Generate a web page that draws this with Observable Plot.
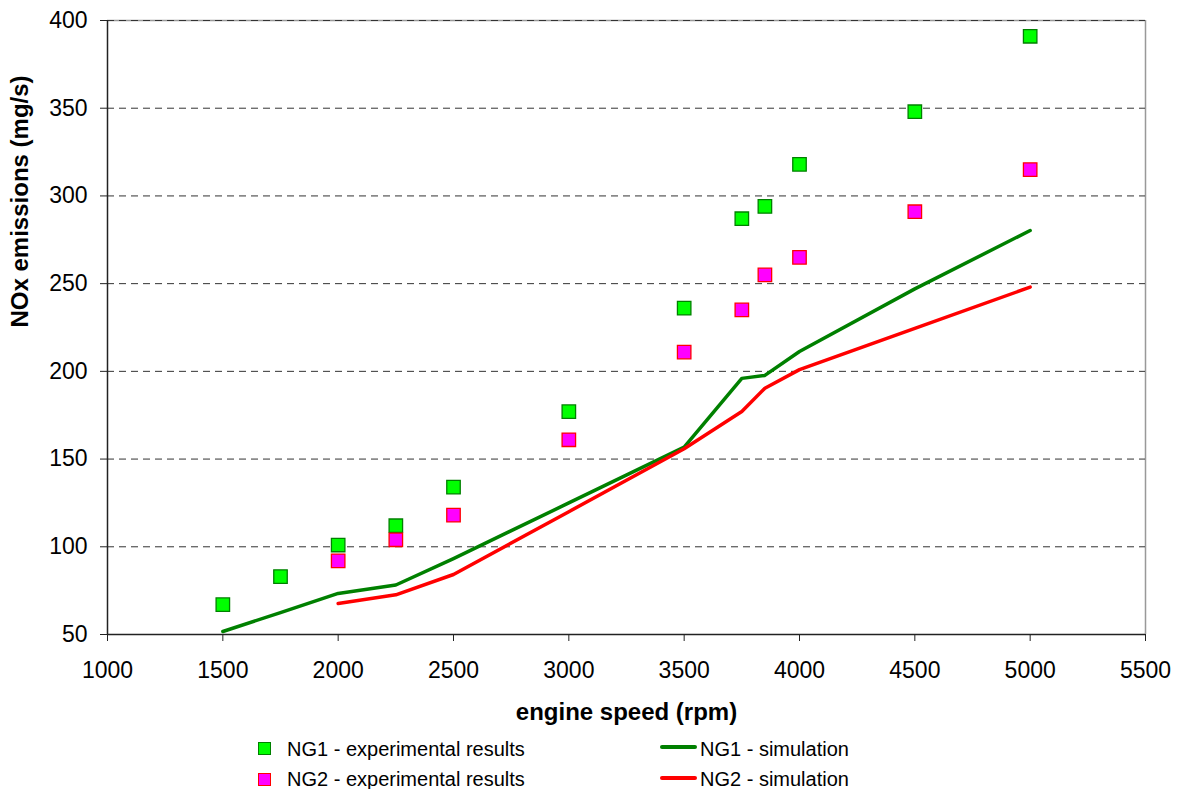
<!DOCTYPE html>
<html>
<head>
<meta charset="utf-8">
<script src="https://cdn.jsdelivr.net/npm/d3@7"></script>
<script src="https://cdn.jsdelivr.net/npm/@observablehq/plot@0.6"></script>
<style>
  html, body { margin: 0; padding: 0; background: #fff; }
  #wrap { position: relative; width: 1180px; height: 789px; font-family: "Liberation Sans", Arial, sans-serif; }
  #wrap svg { display: block; }
  .leg { position: absolute; font-size: 20px; color: #000; white-space: nowrap; line-height: 1; }
  .sw { position: absolute; box-sizing: border-box; width: 13px; height: 13px; border: 1.5px solid; }
  .ln { position: absolute; width: 37px; height: 4px; border-radius: 2px; }
</style>
</head>
<body>
<div id="wrap"></div>
<script>
// Engine speed (rpm) at which each series was measured or simulated
const ng1ExpSpeed = [1500, 1750, 2000, 2250, 2500, 3000, 3500, 3750, 3850, 4000, 4500, 5000];
const ng1ExpNOx   = [67, 83, 101, 112, 134, 177, 236, 287, 294, 318, 348, 391];

const ng2ExpSpeed = [2000, 2250, 2500, 3000, 3500, 3750, 3850, 4000, 4500, 5000];
const ng2ExpNOx   = [92, 104, 118, 161, 211, 235, 255, 265, 291, 315];

const ng1SimSpeed = [1500, 1750, 2000, 2250, 2500, 3000, 3500, 3750, 3850, 4000, 4500, 5000];
const ng1SimNOx   = [51.7, 62.5, 73.4, 78.2, 93.3, 125, 156.8, 196, 197.7, 211.3, 247, 280.3];

const ng2SimSpeed = [2000, 2250, 2500, 3000, 3500, 3750, 3850, 4000, 4500, 5000];
const ng2SimNOx   = [67.7, 72.6, 84.2, 120, 155.9, 177.1, 190.4, 201, 224.5, 248];

// Axis ticks
const xTicks = [1000, 1500, 2000, 2500, 3000, 3500, 4000, 4500, 5000, 5500];
const yTicks = [50, 100, 150, 200, 250, 300, 350, 400];

const legendItems = [
  {label: "NG1 - experimental results", kind: "square", fill: "#00ff00", stroke: "#008000"},
  {label: "NG2 - experimental results", kind: "square", fill: "#ff00ff", stroke: "#ff0000"},
  {label: "NG1 - simulation", kind: "line", stroke: "#008000"},
  {label: "NG2 - simulation", kind: "line", stroke: "#ff0000"}
];

const zip = (xs, ys) => xs.map((x, i) => ({speed: x, nox: ys[i]}));
const ng1Exp = zip(ng1ExpSpeed, ng1ExpNOx);
const ng2Exp = zip(ng2ExpSpeed, ng2ExpNOx);
const ng1Sim = zip(ng1SimSpeed, ng1SimNOx);
const ng2Sim = zip(ng2SimSpeed, ng2SimNOx);

const chart = Plot.plot({
  width: 1180,
  height: 730,
  marginLeft: 107,
  marginRight: 35,
  marginTop: 20,
  marginBottom: 96,
  style: {fontFamily: "'Liberation Sans', Arial, sans-serif", color: "#000", background: "#fff"},
  x: {domain: [1000, 5500]},
  y: {domain: [50, 400]},
  marks: [
    // plot-area border (top and right)
    Plot.ruleY([400], {stroke: "#999", strokeWidth: 1.5}),
    Plot.ruleX([5500], {stroke: "#999", strokeWidth: 1.5}),
    // dashed horizontal gridlines
    Plot.ruleY(yTicks.filter(d => d > 50), {stroke: "#333", strokeWidth: 1, strokeDasharray: "7,5"}),
    // axes
    Plot.axisX(xTicks, {tickSize: 7, tickPadding: 20, fontSize: 23, tickFormat: d => String(d), label: null, stroke: "#222"}),
    Plot.axisY(yTicks, {tickSize: 7, tickPadding: 13, fontSize: 23, tickFormat: d => String(d), label: null, stroke: "#222"}),
    Plot.ruleY([50], {stroke: "#222", strokeWidth: 1.5}),
    Plot.ruleX([1000], {stroke: "#222", strokeWidth: 1.5}),
    // axis titles
    Plot.text(["engine speed (rpm)"], {frameAnchor: "bottom", dy: 85, text: d => d, fontSize: 24, fontWeight: "bold", fill: "#000"}),
    Plot.text(["NOx emissions (mg/s)"], {frameAnchor: "left", dx: -87, rotate: -90, text: d => d, fontSize: 24, fontWeight: "bold", fill: "#000"}),
    // simulation curves
    Plot.line(ng1Sim, {x: "speed", y: "nox", stroke: "#008000", strokeWidth: 3.5, strokeLinejoin: "round", strokeLinecap: "round"}),
    Plot.line(ng2Sim, {x: "speed", y: "nox", stroke: "#ff0000", strokeWidth: 3.5, strokeLinejoin: "round", strokeLinecap: "round"}),
    // experimental points
    Plot.dot(ng1Exp, {x: "speed", y: "nox", symbol: "square", r: 7.6, fill: "#00ff00", stroke: "#008000", strokeWidth: 1.3}),
    Plot.dot(ng2Exp, {x: "speed", y: "nox", symbol: "square", r: 7.6, fill: "#ff00ff", stroke: "#ff0000", strokeWidth: 1.3})
  ]
});

const wrap = document.getElementById("wrap");
wrap.appendChild(chart);

// Legend below the chart: squares in the left column, lines in the right
const legendPos = [
  {left: 258, top: 742, textLeft: 287},
  {left: 258, top: 773, textLeft: 287},
  {left: 660, top: 745, textLeft: 700},
  {left: 660, top: 776, textLeft: 700}
];
legendItems.forEach((item, i) => {
  const p = legendPos[i];
  const key = document.createElement("div");
  if (item.kind === "square") {
    key.className = "sw";
    key.style.background = item.fill;
    key.style.borderColor = item.stroke;
  } else {
    key.className = "ln";
    key.style.background = item.stroke;
  }
  key.style.left = p.left + "px";
  key.style.top = p.top + "px";
  wrap.appendChild(key);
  const label = document.createElement("div");
  label.className = "leg";
  label.textContent = item.label;
  label.style.left = p.textLeft + "px";
  label.style.top = (i % 2 === 0 ? 739 : 769) + "px";
  wrap.appendChild(label);
});
</script>
</body>
</html>
